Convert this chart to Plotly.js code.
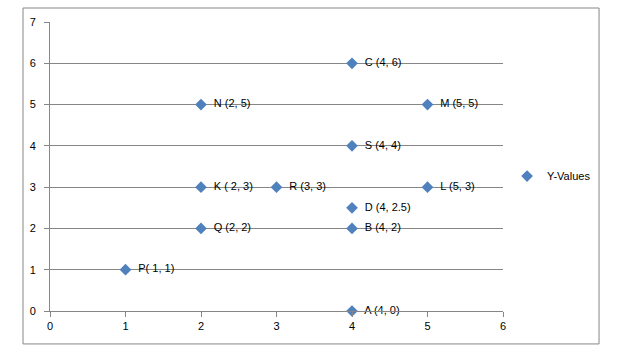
<!DOCTYPE html>
<html>
<head>
<meta charset="utf-8">
<script src="https://cdn.plot.ly/plotly-3.0.1.min.js"></script>
<style>html,body{margin:0;padding:0;background:#fff;}#chart{width:625px;height:361px;}</style>
</head>
<body>
<div id="chart"></div>
<script>
const xValues = [4, 4, 4, 4, 2, 5, 5, 2, 1, 2, 3, 4];
const yValues = [0, 2, 6, 2.5, 3, 3, 5, 5, 1, 2, 3, 4];
const pointLabels = ["A (4, 0)", "B (4, 2)", "C (4, 6)", "D (4, 2.5)", "K ( 2, 3)", "L (5, 3)",
  "M (5, 5)", "N (2, 5)", "P( 1, 1)", "Q (2, 2)", "R (3, 3)", "S (4, 4)"];
const seriesName = "Y-Values";
const xTicks = [0, 1, 2, 3, 4, 5, 6];
const yTicks = [0, 1, 2, 3, 4, 5, 6, 7];

const gray = "#868686";
const font = {family: "Liberation Sans, Arial, sans-serif", size: 11, color: "#000"};

const trace = {
  type: "scatter",
  mode: "markers+text",
  x: xValues,
  y: yValues,
  text: pointLabels.map(t => "  " + t),
  textposition: "middle right",
  textfont: font,
  name: seriesName,
  marker: {symbol: "diamond", color: "#4F81BD", size: 9, line: {width: 0}},
  cliponaxis: false,
  showlegend: true
};

const layout = {
  width: 625, height: 361,
  margin: {l: 50, r: 122, t: 22, b: 50},
  paper_bgcolor: "#fff", plot_bgcolor: "#fff",
  font: font,
  showlegend: true,
  legend: {x: 1.009, y: 0.467, xanchor: "left", yanchor: "middle", font: font, bgcolor: "rgba(0,0,0,0)"},
  xaxis: {
    range: [0, 6], tickvals: xTicks, showgrid: false, zeroline: false,
    showline: true, linecolor: gray, linewidth: 1,
    ticks: "outside", ticklen: 5, tickcolor: gray, tickfont: font, fixedrange: true
  },
  yaxis: {
    range: [0, 7], tickvals: yTicks, showgrid: true, gridcolor: gray, gridwidth: 1, zeroline: false,
    showline: true, linecolor: gray, linewidth: 1,
    ticks: "outside", ticklen: 5, tickcolor: gray, tickfont: font, fixedrange: true,
    ticklabelstandoff: 6
  },
  shapes: [{
    type: "rect", xref: "paper", yref: "paper",
    x0: -0.0596, x1: 1.212, y0: -0.114, y1: 1.0484,
    line: {color: gray, width: 1}, layer: "below"
  }]
};

Plotly.newPlot("chart", [trace], layout, {displayModeBar: false, staticPlot: true});
</script>
</body>
</html>
